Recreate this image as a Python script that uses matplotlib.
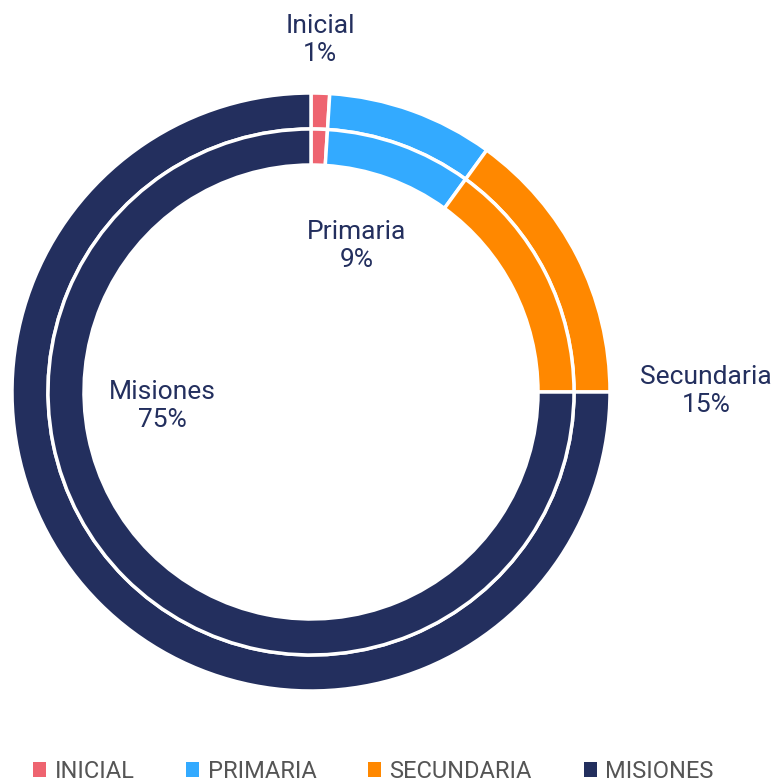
import matplotlib.pyplot as plt
from matplotlib.patches import Patch

niveles = ["Inicial", "Primaria", "Secundaria", "Misiones"]
leyenda = ["INICIAL", "PRIMARIA", "SECUNDARIA", "MISIONES"]
anillo_ext = [1, 9, 15, 75]
anillo_int = [1, 9, 15, 75]
colores = ["#EE6470", "#33AAFF", "#FF8800", "#232F5E"]
texto = "#232F5E"

plt.rcParams['font.family'] = ['Roboto', 'DejaVu Sans']

fig = plt.figure(figsize=(7.73, 7.83), dpi=100)
ax = fig.add_axes([0, 0, 1, 1])

cx, cy = 311, 783 - 392
ax.pie(anillo_ext, radius=299, center=(cx, cy), colors=colores,
       startangle=90, counterclock=False,
       wedgeprops=dict(width=36, edgecolor="white", linewidth=2.5))
ax.pie(anillo_int, radius=263, center=(cx, cy), colors=colores,
       startangle=90, counterclock=False,
       wedgeprops=dict(width=36, edgecolor="white", linewidth=2.5))

ax.set_xlim(0, 773)
ax.set_ylim(0, 783)
ax.set_aspect('auto')
ax.axis('off')

etiquetas = [(320, 40), (357, 246), (706, 391), (162, 406)]
for nombre, v, (x, y) in zip(niveles, anillo_ext, etiquetas):
    ax.text(x, 783 - y, f"{nombre}\n{v}%", ha="center", va="center",
            fontsize=19, color=texto, linespacing=1.2)

handles = [Patch(facecolor=c, edgecolor="none") for c in colores]
fig.legend(handles, leyenda, loc="lower center", bbox_to_anchor=(0.483, -0.027),
           ncol=4, frameon=False, fontsize=17, labelcolor="#555555",
           handlelength=0.55, handleheight=0.55, handletextpad=0.35,
           columnspacing=2.2)

fig.savefig("out.png", dpi=100)
